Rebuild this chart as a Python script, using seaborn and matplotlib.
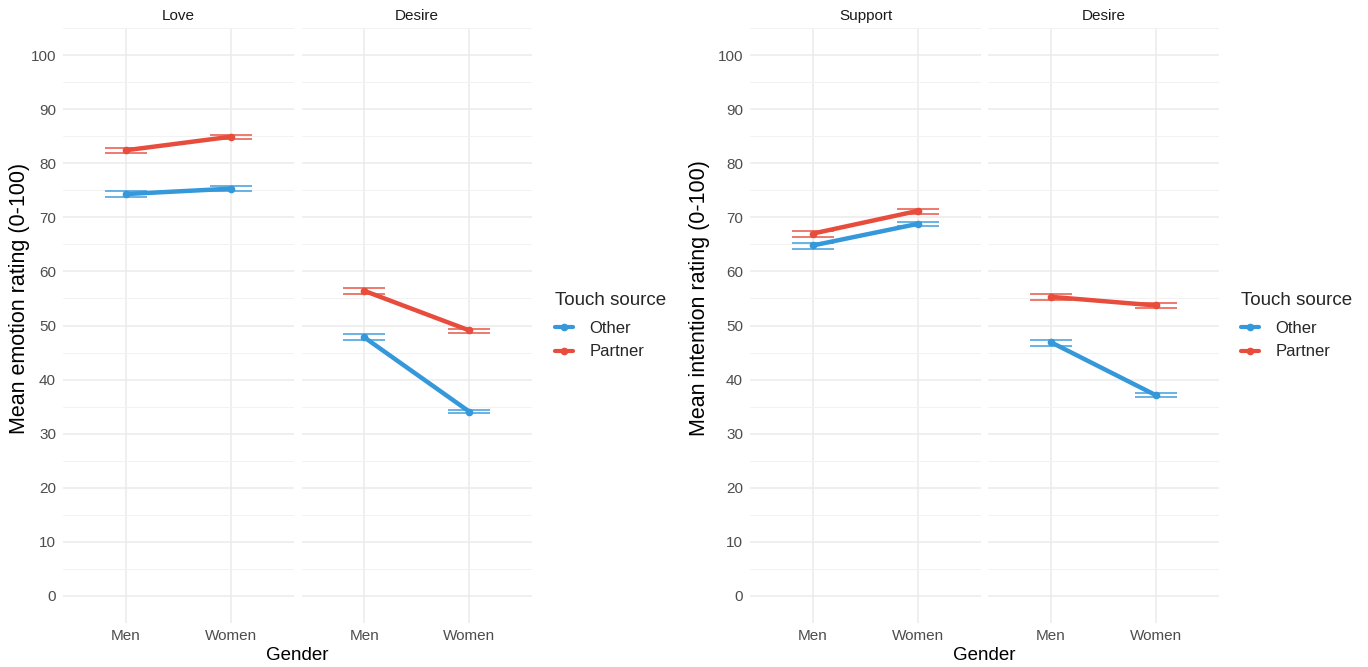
import matplotlib
matplotlib.use("Agg")
import matplotlib.pyplot as plt
from matplotlib.ticker import MultipleLocator
import pandas as pd
import seaborn as sns

# ---- data -------------------------------------------------------------
genders = ["Men", "Women"]
sources = ["Other", "Partner"]

# Emotion ratings
love_other = [74.3, 75.3]
love_other_lo = [73.7, 74.9]
love_other_hi = [74.8, 75.7]
love_partner = [82.4, 84.9]
love_partner_lo = [81.8, 84.5]
love_partner_hi = [82.9, 85.2]

emo_desire_other = [47.8, 34.1]
emo_desire_other_lo = [47.3, 33.8]
emo_desire_other_hi = [48.4, 34.4]
emo_desire_partner = [56.4, 49.1]
emo_desire_partner_lo = [55.8, 48.7]
emo_desire_partner_hi = [57.0, 49.4]

# Intention ratings
support_other = [64.8, 68.8]
support_other_lo = [64.2, 68.4]
support_other_hi = [65.3, 69.2]
support_partner = [67.0, 71.2]
support_partner_lo = [66.4, 70.7]
support_partner_hi = [67.5, 71.5]

int_desire_other = [46.9, 37.1]
int_desire_other_lo = [46.3, 36.8]
int_desire_other_hi = [47.4, 37.5]
int_desire_partner = [55.3, 53.7]
int_desire_partner_lo = [54.7, 53.3]
int_desire_partner_hi = [55.8, 54.1]

y_ticks = [0, 10, 20, 30, 40, 50, 60, 70, 80, 90, 100]

palette = {"Other": "#3498DB", "Partner": "#E74C3C"}


def make_frame(other, other_lo, other_hi, partner, partner_lo, partner_hi):
    rows = []
    for src, m, lo, hi in [("Other", other, other_lo, other_hi),
                           ("Partner", partner, partner_lo, partner_hi)]:
        for i, g in enumerate(genders):
            rows.append({"Gender": g, "gx": i, "Touch source": src,
                         "mean": m[i], "lo": lo[i], "hi": hi[i]})
    return pd.DataFrame(rows)


panels = {
    "left": [
        ("Love", make_frame(love_other, love_other_lo, love_other_hi,
                            love_partner, love_partner_lo, love_partner_hi)),
        ("Desire", make_frame(emo_desire_other, emo_desire_other_lo, emo_desire_other_hi,
                              emo_desire_partner, emo_desire_partner_lo, emo_desire_partner_hi)),
    ],
    "right": [
        ("Support", make_frame(support_other, support_other_lo, support_other_hi,
                               support_partner, support_partner_lo, support_partner_hi)),
        ("Desire", make_frame(int_desire_other, int_desire_other_lo, int_desire_other_hi,
                              int_desire_partner, int_desire_partner_lo, int_desire_partner_hi)),
    ],
}

# ---- styling ----------------------------------------------------------
sns.set_theme(style="white")
plt.rcParams["font.family"] = ["Liberation Sans", "DejaVu Sans"]

W, H = 1368, 667
fig = plt.figure(figsize=(W / 100, H / 100), dpi=100)
fig.patch.set_facecolor("white")


def px_axes(x0, x1, y0=28, y1=623):
    return fig.add_axes([x0 / W, 1 - y1 / H, (x1 - x0) / W, (y1 - y0) / H])


def draw_panel(ax, title, df, show_y):
    ax.set_facecolor("white")
    for s in ax.spines.values():
        s.set_visible(False)
    ax.set_xlim(-0.6, 1.6)
    ax.set_ylim(-5, 105)
    ax.set_yticks(y_ticks)
    ax.yaxis.set_minor_locator(MultipleLocator(5))
    ax.set_xticks(range(len(genders)))
    ax.set_xticklabels(genders)
    ax.grid(True, which="major", color="#EBEBEB", linewidth=1.1, zorder=0)
    ax.grid(True, which="minor", axis="y", color="#F2F2F2", linewidth=0.7, zorder=0)
    ax.set_axisbelow(True)
    ax.tick_params(axis="both", which="both", length=0, labelsize=11,
                   labelcolor="#4D4D4D")
    ax.tick_params(axis="y", pad=5)
    ax.tick_params(axis="x", pad=4)
    if not show_y:
        ax.tick_params(axis="y", labelleft=False)

    # error bars with horizontal caps
    for src in sources:
        sub = df[df["Touch source"] == src]
        ax.hlines(sub["lo"], sub["gx"] - 0.2, sub["gx"] + 0.2,
                  color=palette[src], linewidth=1.3, alpha=0.8, zorder=2)
        ax.hlines(sub["hi"], sub["gx"] - 0.2, sub["gx"] + 0.2,
                  color=palette[src], linewidth=1.3, alpha=0.8, zorder=2)
        ax.vlines(sub["gx"], sub["lo"], sub["hi"],
                  color=palette[src], linewidth=1.3, alpha=0.8, zorder=2)

    sns.lineplot(data=df, x="gx", y="mean", hue="Touch source",
                 hue_order=sources, palette=palette, linewidth=3.2,
                 marker="o", markersize=5.5, markeredgewidth=0,
                 ax=ax, legend=True, zorder=3)
    handles, labels = ax.get_legend_handles_labels()
    ax.get_legend().remove()
    ax.set_xlabel("")
    ax.set_ylabel("")
    ax.set_title(title, fontsize=11, color="#1A1A1A", pad=6)
    return handles, labels


layout = {
    "left": dict(axes=[(63, 294), (301.5, 532)], ylab="Mean emotion rating (0-100)",
                 ylab_x=20, xlab_x=297.5, leg_x=548),
    "right": dict(axes=[(750, 981), (988, 1219)], ylab="Mean intention rating (0-100)",
                  ylab_x=700, xlab_x=984.5, leg_x=1234),
}

for key in ["left", "right"]:
    cfg = layout[key]
    handles = labels = None
    for j, ((x0, x1), (title, df)) in enumerate(zip(cfg["axes"], panels[key])):
        ax = px_axes(x0, x1)
        handles, labels = draw_panel(ax, title, df, show_y=(j == 0))
    fig.text(cfg["ylab_x"] / W, 1 - 298 / H, cfg["ylab"], rotation=90,
             ha="center", va="center", fontsize=15.5, color="black")
    fig.text(cfg["xlab_x"] / W, 1 - 655 / H, "Gender", ha="center",
             va="center", fontsize=13.5, color="black")
    leg = fig.legend(handles, labels, title="Touch source",
                     loc="upper left", bbox_to_anchor=(cfg["leg_x"] / W, 1 - 285 / H),
                     frameon=False, fontsize=12, title_fontsize=13.5,
                     handlelength=1.1, handletextpad=1.0, labelspacing=0.5,
                     alignment="left", borderaxespad=0)
    leg._legend_box.sep = 9
    for line in leg.get_lines():
        line.set_linewidth(3)

fig.savefig("out.png", dpi=100, facecolor="white")
